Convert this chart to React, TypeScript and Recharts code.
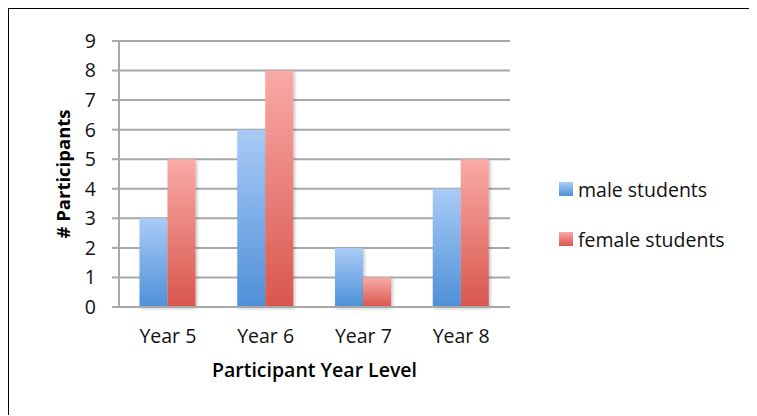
import React from 'react';
import { BarChart, Bar, XAxis, YAxis, CartesianGrid, Legend } from 'recharts';

const categories = ['Year 5', 'Year 6', 'Year 7', 'Year 8'];
const maleStudents = [3, 6, 2, 4];
const femaleStudents = [5, 8, 1, 5];
const yTicks = [0, 1, 2, 3, 4, 5, 6, 7, 8, 9];
const seriesNames = ['male students', 'female students'];

const data = categories.map((c, i) => ({
  year: c,
  male: maleStudents[i],
  female: femaleStudents[i],
}));

const FONT = '"Open Sans", sans-serif';
const GRID = '#a8a8a8';

const legendItems = [
  { name: seriesNames[0], top: '#a9cbf6', bottom: '#4e90d8' },
  { name: seriesNames[1], top: '#f9aaa7', bottom: '#d9564d' },
];

const LegendContent = () => (
  <div style={{ fontFamily: FONT, fontSize: 19.5, color: '#111' }}>
    {legendItems.map((it, i) => (
      <div key={it.name} style={{ display: 'flex', alignItems: 'center', height: 24, marginBottom: i === 0 ? 26 : 0 }}>
        <svg width={14} height={14} style={{ display: 'block' }}>
          <defs>
            <linearGradient id={`lg${i}`} x1="0" y1="0" x2="0" y2="1">
              <stop offset="0%" stopColor={it.top} />
              <stop offset="100%" stopColor={it.bottom} />
            </linearGradient>
          </defs>
          <rect x={0} y={0} width={14} height={14} fill={`url(#lg${i})`} />
        </svg>
        <span style={{ marginLeft: 5, whiteSpace: 'nowrap' }}>{it.name}</span>
      </div>
    ))}
  </div>
);

export default function App() {
  return (
    <div style={{ position: 'relative', width: 749, height: 408 }}>
      <div
        style={{
          position: 'absolute',
          left: -1,
          top: -1,
          width: 750,
          height: 408,
          borderTop: '2px solid #000',
          borderLeft: '2px solid #000',
          boxSizing: 'border-box',
        }}
      />
      <BarChart
        width={749}
        height={408}
        data={data}
        margin={{ top: 33, right: 57, bottom: 0, left: 0 }}
        barCategoryGap="21%"
        barGap={0}
        style={{ position: 'absolute', left: 0, top: 0 }}
      >
        <defs>
          <linearGradient id="gMale" x1="0" y1="0" x2="0" y2="1">
            <stop offset="0%" stopColor="#a9cbf6" />
            <stop offset="100%" stopColor="#4e90d8" />
          </linearGradient>
          <linearGradient id="gFemale" x1="0" y1="0" x2="0" y2="1">
            <stop offset="0%" stopColor="#f9aaa7" />
            <stop offset="100%" stopColor="#d9564d" />
          </linearGradient>
          <filter id="shadow" x="-20%" y="-20%" width="150%" height="150%">
            <feDropShadow dx="1.5" dy="1.5" stdDeviation="1.5" floodColor="#000" floodOpacity="0.25" />
          </filter>
        </defs>
        <CartesianGrid vertical={false} stroke={GRID} strokeWidth={2} />
        <XAxis
          dataKey="year"
          height={109}
          axisLine={{ stroke: GRID, strokeWidth: 2 }}
          tickLine={false}
          tickSize={0}
          tickMargin={22}
          tick={{ fontFamily: FONT, fontSize: 19.5, fill: '#111' }}
          label={{
            value: 'Participant Year Level',
            position: 'insideBottom',
            offset: 39,
            style: { fontFamily: FONT, fontSize: 19.5, fontWeight: 600, fill: '#000' },
          }}
        />
        <YAxis
          width={111}
          domain={[0, 9]}
          ticks={yTicks}
          interval={0}
          axisLine={{ stroke: GRID, strokeWidth: 2 }}
          tickLine={{ stroke: GRID, strokeWidth: 2 }}
          tickSize={7}
          tickMargin={16}
          tick={{ fontFamily: FONT, fontSize: 19.5, fill: '#111' }}
          label={{
            value: '# Participants',
            angle: -90,
            position: 'center',
            style: { fontFamily: FONT, fontSize: 18.5, fontWeight: 700, fill: '#000', textAnchor: 'middle' },
          }}
        />
        <Legend
          layout="vertical"
          align="right"
          verticalAlign="middle"
          content={<LegendContent />}
          wrapperStyle={{ position: 'absolute', left: 551, top: 169, width: 190 }}
        />
        <Bar dataKey="male" name={seriesNames[0]} fill="url(#gMale)" filter="url(#shadow)" isAnimationActive={false} />
        <Bar dataKey="female" name={seriesNames[1]} fill="url(#gFemale)" filter="url(#shadow)" isAnimationActive={false} />
      </BarChart>
    </div>
  );
}
